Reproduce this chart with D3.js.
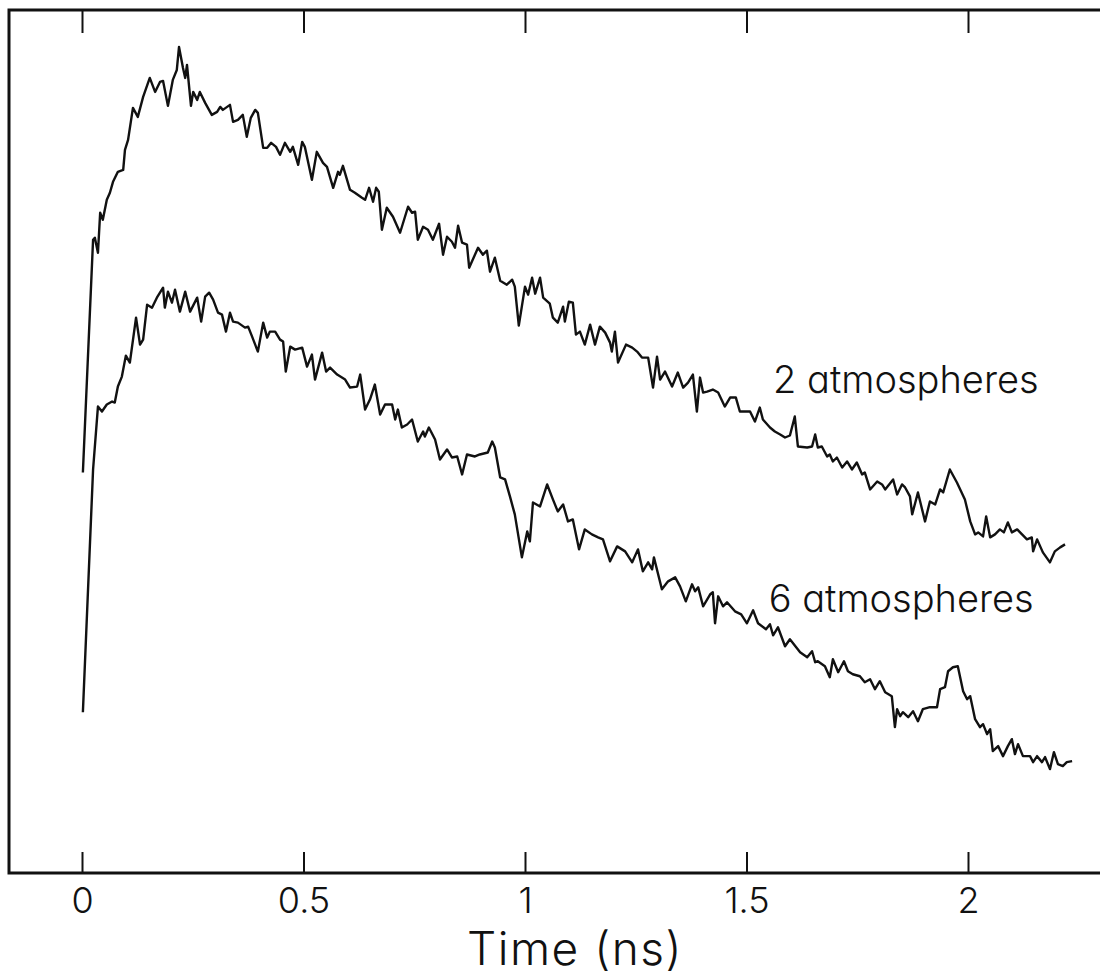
<!DOCTYPE html>
<html>
  <head>
    <style type="text/css">
      body { margin: 0; background: #fff; }
      text { font-family: Inter, "Noto Sans", sans-serif; font-feature-settings: "cv11"; fill: #111; }
      .trace { fill: none; stroke: #111; stroke-width: 2.4px; stroke-linejoin: round; }
    </style>
  </head>
  <body>
    <div id="canvas"></div>
    <script src="https://cdnjs.cloudflare.com/ajax/libs/d3/7.8.5/d3.min.js"></script>
    <script type="text/javascript">

    // time axis (ns)
    var tickValues = [0, 0.5, 1, 1.5, 2];
    var tickLabels = ["0", "0.5", "1", "1.5", "2"];

    // fluorescence decay, arbitrary units, [time ns, counts]
    var trace2atm = [
      [0.002,401],[0.025,634],[0.029,636],[0.036,621],[0.041,661],[0.047,654],[0.056,674],[0.063,681],
      [0.070,692],[0.081,702],[0.093,704],[0.097,724],[0.104,734],[0.115,766],[0.126,757],[0.138,777],
      [0.153,796],[0.165,782],[0.176,792],[0.183,793],[0.194,768],[0.205,794],[0.214,804],[0.219,827],
      [0.228,806],[0.233,796],[0.237,809],[0.246,768],[0.251,782],[0.260,774],[0.266,782],[0.278,771],
      [0.293,759],[0.305,762],[0.312,767],[0.318,764],[0.334,769],[0.341,752],[0.352,754],[0.363,759],
      [0.372,737],[0.381,756],[0.391,764],[0.397,761],[0.409,726],[0.418,726],[0.427,731],[0.438,727],
      [0.447,719],[0.458,731],[0.470,722],[0.476,727],[0.488,709],[0.497,732],[0.503,727],[0.519,694],
      [0.530,722],[0.544,711],[0.553,707],[0.567,686],[0.578,702],[0.582,699],[0.589,708],[0.605,684],
      [0.616,681],[0.632,676],[0.639,674],[0.648,686],[0.657,672],[0.664,686],[0.670,682],[0.677,644],
      [0.688,666],[0.702,657],[0.718,641],[0.736,667],[0.745,661],[0.752,662],[0.758,634],[0.770,647],
      [0.781,644],[0.792,634],[0.806,650],[0.815,619],[0.824,637],[0.835,632],[0.842,626],[0.849,648],
      [0.858,631],[0.869,629],[0.874,606],[0.894,626],[0.905,619],[0.914,623],[0.921,602],[0.932,616],
      [0.944,593],[0.959,589],[0.971,594],[0.977,587],[0.986,548],[1.000,587],[1.007,579],[1.016,596],
      [1.023,580],[1.034,596],[1.041,576],[1.056,570],[1.063,556],[1.074,551],[1.086,567],[1.090,552],
      [1.099,572],[1.108,571],[1.115,539],[1.124,542],[1.135,529],[1.147,549],[1.158,529],[1.169,547],
      [1.181,541],[1.192,531],[1.196,522],[1.203,542],[1.210,511],[1.228,529],[1.242,526],[1.253,522],
      [1.264,516],[1.278,516],[1.289,486],[1.298,517],[1.305,494],[1.316,502],[1.332,487],[1.345,501],
      [1.357,486],[1.368,491],[1.379,499],[1.388,462],[1.395,496],[1.402,481],[1.411,482],[1.424,484],
      [1.436,481],[1.451,467],[1.463,476],[1.476,476],[1.485,462],[1.508,462],[1.519,452],[1.530,466],
      [1.537,454],[1.553,446],[1.564,442],[1.576,439],[1.587,436],[1.598,438],[1.609,457],[1.616,427],
      [1.637,426],[1.648,427],[1.655,439],[1.661,426],[1.670,427],[1.682,417],[1.688,419],[1.695,412],
      [1.704,416],[1.716,406],[1.727,412],[1.738,404],[1.749,411],[1.761,399],[1.767,401],[1.779,384],
      [1.795,392],[1.806,389],[1.813,384],[1.831,394],[1.840,379],[1.851,389],[1.858,386],[1.869,377],
      [1.874,359],[1.887,381],[1.903,352],[1.914,372],[1.926,369],[1.937,384],[1.944,381],[1.959,404],
      [1.975,391],[1.993,374],[2.005,352],[2.016,339],[2.023,341],[2.034,337],[2.041,357],[2.050,336],
      [2.061,339],[2.072,344],[2.081,341],[2.090,351],[2.099,341],[2.111,344],[2.122,339],[2.133,334],
      [2.144,336],[2.147,322],[2.156,334],[2.169,321],[2.185,311],[2.196,322],[2.208,326],[2.219,329]
    ];

    var trace6atm = [
      [0.002,161],[0.025,404],[0.036,467],[0.045,462],[0.056,469],[0.068,472],[0.074,471],[0.081,487],
      [0.090,497],[0.099,518],[0.108,511],[0.122,556],[0.131,529],[0.138,534],[0.147,569],[0.158,566],
      [0.169,576],[0.183,586],[0.187,566],[0.194,582],[0.203,571],[0.210,584],[0.221,562],[0.233,582],
      [0.244,562],[0.260,576],[0.269,552],[0.278,577],[0.287,581],[0.296,574],[0.307,561],[0.316,559],
      [0.325,542],[0.334,561],[0.341,552],[0.352,551],[0.368,546],[0.375,547],[0.384,537],[0.397,522],
      [0.409,551],[0.418,536],[0.424,542],[0.436,542],[0.447,534],[0.454,532],[0.460,502],[0.470,527],
      [0.481,524],[0.497,526],[0.508,507],[0.519,519],[0.526,494],[0.542,521],[0.551,502],[0.560,506],
      [0.576,499],[0.594,494],[0.605,486],[0.621,487],[0.628,499],[0.639,464],[0.650,474],[0.661,489],
      [0.673,459],[0.684,469],[0.700,469],[0.707,454],[0.713,464],[0.722,446],[0.734,449],[0.745,454],
      [0.758,432],[0.770,442],[0.774,437],[0.783,446],[0.797,434],[0.808,414],[0.824,424],[0.835,416],
      [0.847,417],[0.858,399],[0.869,419],[0.887,417],[0.898,419],[0.916,421],[0.926,432],[0.932,426],
      [0.944,396],[0.955,394],[0.966,377],[0.977,359],[0.993,316],[1.005,342],[1.011,332],[1.018,371],
      [1.034,367],[1.050,389],[1.063,374],[1.074,362],[1.086,369],[1.097,352],[1.108,354],[1.122,324],
      [1.135,344],[1.151,339],[1.165,336],[1.176,334],[1.192,312],[1.208,327],[1.226,322],[1.242,311],
      [1.255,324],[1.266,302],[1.278,311],[1.287,304],[1.291,316],[1.309,284],[1.323,292],[1.339,296],
      [1.350,287],[1.363,272],[1.377,289],[1.384,282],[1.391,286],[1.402,267],[1.418,279],[1.424,281],
      [1.429,250],[1.436,277],[1.447,267],[1.456,271],[1.474,262],[1.488,259],[1.501,250],[1.515,263],
      [1.526,250],[1.544,244],[1.553,249],[1.560,238],[1.571,246],[1.587,227],[1.598,234],[1.621,221],
      [1.637,216],[1.648,222],[1.655,211],[1.661,212],[1.677,207],[1.688,196],[1.695,214],[1.707,201],
      [1.720,212],[1.729,202],[1.740,199],[1.756,197],[1.767,191],[1.779,194],[1.790,184],[1.801,192],
      [1.813,181],[1.828,177],[1.835,146],[1.840,164],[1.847,157],[1.853,161],[1.865,156],[1.876,162],
      [1.887,152],[1.898,164],[1.914,166],[1.930,166],[1.937,184],[1.948,186],[1.955,202],[1.966,206],
      [1.977,207],[1.989,182],[1.998,174],[2.005,177],[2.016,154],[2.027,146],[2.034,149],[2.043,139],
      [2.050,144],[2.056,122],[2.068,127],[2.079,117],[2.090,127],[2.099,134],[2.106,119],[2.113,129],
      [2.124,117],[2.140,117],[2.147,111],[2.156,117],[2.167,111],[2.174,116],[2.185,104],[2.194,121],
      [2.203,109],[2.214,107],[2.223,111],[2.235,112]
    ];

    var seriesLabels = ["2 atmospheres", "6 atmospheres"];

    (function() {
      var width = 1100, height = 976;
      var frame = {left: 9, top: 10, bottom: 873};

      var svg = d3.select('#canvas').append('svg')
        .attr('width', width)
        .attr('height', height);

      var x = d3.scaleLinear().domain([0, 2]).range([82, 968]);
      var y = d3.scaleLinear().domain([0, 864]).range([frame.bottom, frame.top]);

      // box, right side runs off the page
      svg.append('rect')
        .attr('x', frame.left)
        .attr('y', frame.top)
        .attr('width', width + 20)
        .attr('height', frame.bottom - frame.top)
        .attr('fill', 'none')
        .attr('stroke', '#111')
        .attr('stroke-width', 3);

      var bottomAxis = d3.axisBottom(x)
        .tickValues(tickValues)
        .tickFormat(function (d, i) { return tickLabels[i]; })
        .tickSizeInner(-21)
        .tickSizeOuter(0)
        .tickPadding(0);

      var gb = svg.append('g')
        .attr('transform', 'translate(0,' + frame.bottom + ')')
        .call(bottomAxis);
      gb.select('.domain').remove();
      gb.selectAll('line').attr('stroke', '#111').attr('stroke-width', 2);
      gb.selectAll('text')
        .attr('y', 40)
        .attr('dy', 0)
        .style('font-size', '36px')
        .style('font-weight', 300)
        .attr('fill', '#111');

      var topAxis = d3.axisTop(x)
        .tickValues(tickValues)
        .tickFormat('')
        .tickSizeInner(-23)
        .tickSizeOuter(0);

      var gt = svg.append('g')
        .attr('transform', 'translate(0,' + frame.top + ')')
        .call(topAxis);
      gt.select('.domain').remove();
      gt.selectAll('line').attr('stroke', '#111').attr('stroke-width', 2);

      svg.append('text')
        .attr('x', 575)
        .attr('y', 965)
        .attr('text-anchor', 'middle')
        .style('font-size', '46px')
        .style('letter-spacing', '1.5px')
        .style('font-weight', 300)
        .text('Time (ns)');

      var line = d3.line()
        .x(function (d) { return x(d[0]); })
        .y(function (d) { return y(d[1]); });

      svg.selectAll('path.trace')
        .data([trace2atm, trace6atm])
        .enter().append('path')
        .attr('class', 'trace')
        .attr('d', line);

      // labels sit next to the tails of the traces
      var labelPos = [[1.56, 481], [1.55, 261]];
      svg.selectAll('text.series')
        .data(seriesLabels)
        .enter().append('text')
        .attr('class', 'series')
        .attr('x', function (d, i) { return x(labelPos[i][0]); })
        .attr('y', function (d, i) { return y(labelPos[i][1]); })
        .style('font-size', '38px')
        .style('font-weight', 300)
        .text(function (d) { return d; });
    })();
    </script>
  </body>
</html>
